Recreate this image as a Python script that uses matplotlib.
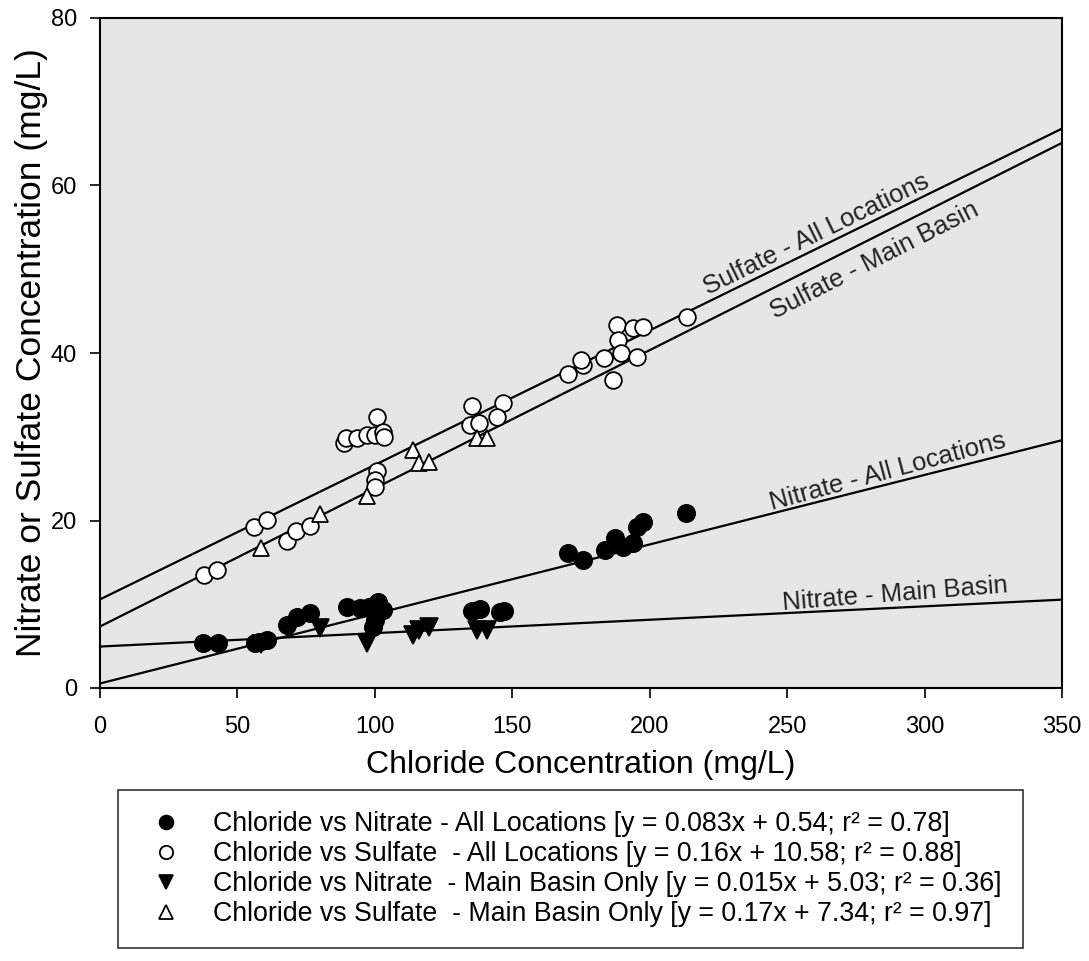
import matplotlib.pyplot as plt
import numpy as np

plt.rcParams['font.family'] = ['Liberation Sans', 'DejaVu Sans']

# Chloride vs Nitrate - all locations (filled circles)
no3_all_x = [37.6, 43.0, 56.4, 58.0, 60.6, 68.0, 71.6, 76.4, 89.8, 94.6, 98.0, 101.0,
             103.0, 100.0, 99.3, 135.3, 138.2, 145.5, 147.0, 170.2, 175.7, 183.7,
             187.3, 190.2, 194.0, 195.3, 197.5, 213.2]
no3_all_y = [5.4, 5.4, 5.4, 5.5, 5.7, 7.5, 8.5, 9.0, 9.7, 9.6, 9.7, 10.3,
             9.3, 8.1, 7.3, 9.2, 9.4, 9.1, 9.2, 16.1, 15.3, 16.5,
             17.9, 16.8, 17.3, 19.2, 19.8, 20.9]

# Chloride vs Sulfate - all locations (open circles)
so4_all_x = [37.8, 42.6, 56.0, 60.7, 68.0, 71.3, 76.4, 88.8, 89.5, 93.5, 97.1, 100.0,
             100.7, 103.0, 103.3, 100.7, 100.0, 100.0, 135.5, 146.7, 134.6, 138.0,
             144.3, 170.2, 175.7, 175.0, 183.3, 188.0, 193.9, 197.5, 188.4, 189.5,
             195.3, 186.6, 213.5]
so4_all_y = [13.5, 14.1, 19.2, 20.1, 17.6, 18.7, 19.3, 29.3, 29.9, 29.9, 30.2, 30.2,
             32.4, 30.6, 30.0, 25.9, 24.8, 24.0, 33.7, 34.0, 31.4, 31.6,
             32.4, 37.5, 38.6, 39.2, 39.4, 43.3, 43.0, 43.1, 41.5, 40.0,
             39.5, 36.8, 44.3]

# Main basin only
main_x = [58.6, 80.0, 97.0, 113.9, 116.0, 119.7, 137.0, 140.8]
no3_main_y = [5.3, 7.2, 5.4, 6.3, 6.9, 7.3, 6.9, 6.9]
so4_main_y = [16.7, 20.8, 22.9, 28.4, 26.9, 27.0, 29.9, 29.9]

# regression lines (slope, intercept) as drawn
fit_slopes = [0.083, 0.1606, 0.016, 0.165]
fit_intercepts = [0.54, 10.58, 4.95, 7.34]

legend_labels = [
    'Chloride vs Nitrate - All Locations [y = 0.083x + 0.54; r\u00b2 = 0.78]',
    'Chloride vs Sulfate  - All Locations [y = 0.16x + 10.58; r\u00b2 = 0.88]',
    'Chloride vs Nitrate  - Main Basin Only [y = 0.015x + 5.03; r\u00b2 = 0.36]',
    'Chloride vs Sulfate  - Main Basin Only [y = 0.17x + 7.34; r\u00b2 = 0.97]',
]

line_labels = ['Nitrate - All Locations', 'Sulfate - All Locations',
               'Nitrate - Main Basin', 'Sulfate - Main Basin']
label_pos = [(286.6, 25.8), (260.5, 54.2), (289.2, 11.2), (281.9, 51.1)]
label_rot = [15.0, 26.0, 4.5, 27.0]

fig = plt.figure(figsize=(10.89, 9.61), dpi=100)
ax = fig.add_axes([100 / 1089, 1 - 688 / 961, 962 / 1089, 670 / 961])
ax.set_facecolor('#e6e6e6')

xx = np.array([0, 350])
for m, b in zip(fit_slopes, fit_intercepts):
    ax.plot(xx, m * xx + b, color='black', lw=1.6, zorder=2)

h1, = ax.plot(no3_all_x, no3_all_y, 'o', ms=12.5, mfc='black', mec='black', mew=1.2, zorder=3)
h2, = ax.plot(so4_all_x, so4_all_y, 'o', ms=12, mfc='white', mec='black', mew=1.3, zorder=3)
h3, = ax.plot(main_x, no3_main_y, 'v', ms=12.5, mfc='black', mec='black', mew=1.2, zorder=4)
h4, = ax.plot(main_x, so4_main_y, '^', ms=12, mfc='white', mec='black', mew=1.3, zorder=4)

for txt, (x, y), r in zip(line_labels, label_pos, label_rot):
    ax.text(x, y, txt, rotation=r, rotation_mode='anchor', ha='center', va='center',
            fontsize=18.5, color='#222222')

ax.set_xlim(0, 350)
ax.set_ylim(0, 80)
ax.set_xticks(range(0, 351, 50))
ax.set_yticks(range(0, 81, 20))
ax.tick_params(direction='out', length=7.5, width=1.2, labelsize=17)
ax.tick_params(axis='x', pad=13)
ax.tick_params(axis='y', pad=9)
for s in ax.spines.values():
    s.set_linewidth(1.5)
ax.set_xlabel('Chloride Concentration (mg/L)', fontsize=23, labelpad=8)
ax.set_ylabel('Nitrate or Sulfate Concentration (mg/L)', fontsize=25.5, labelpad=2)

leg = fig.legend([h1, h2, h3, h4], legend_labels, loc='upper left',
                 bbox_to_anchor=(118 / 1089, 1 - 790 / 961), fontsize=19.3,
                 frameon=True, fancybox=False, edgecolor='black', markerscale=0.8,
                 handlelength=2.0, handletextpad=0.78, borderpad=0.78,
                 labelspacing=0.15, borderaxespad=0)
leg.get_frame().set_linewidth(1.2)

fig.savefig('out.png', dpi=100)
